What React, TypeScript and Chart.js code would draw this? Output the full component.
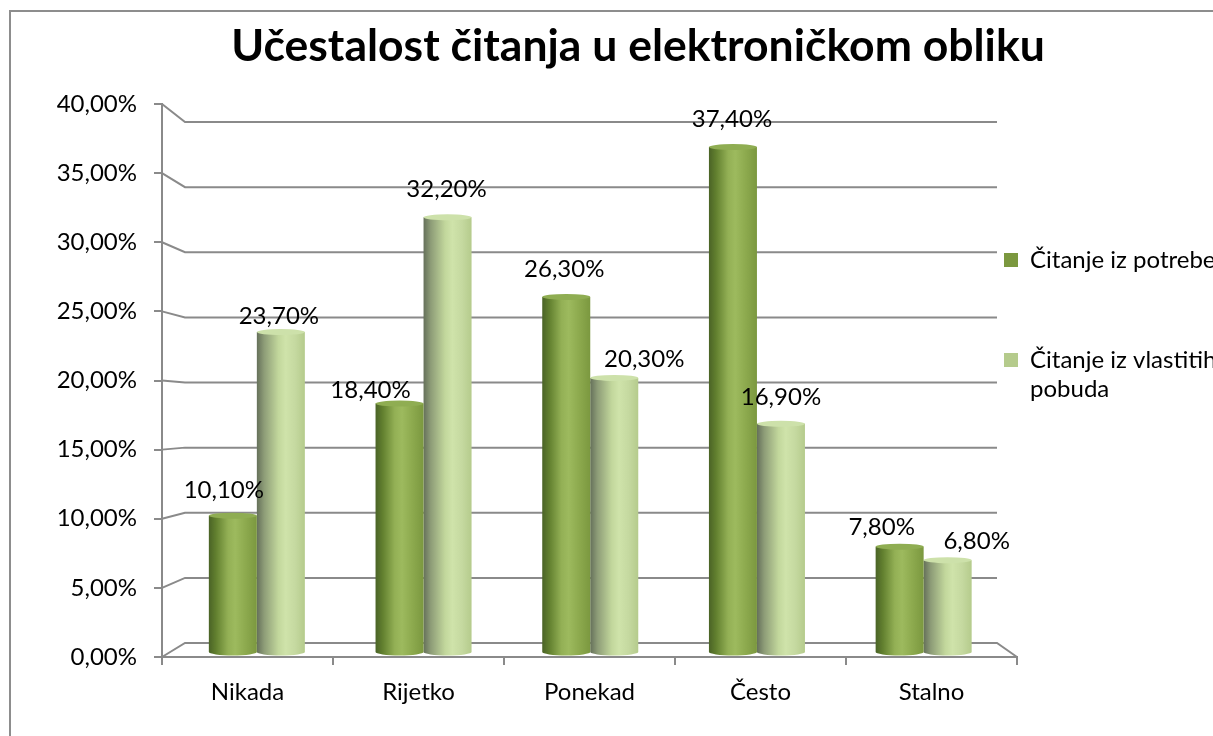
import React, { useEffect, useRef } from 'react';
import { Chart, registerables } from 'chart.js';

Chart.register(...registerables);

// ---------- data ----------
const TITLE = 'Učestalost čitanja u elektroničkom obliku';
const CATEGORIES = ['Nikada', 'Rijetko', 'Ponekad', 'Često', 'Stalno'];
const SERIES_NAMES = ['Čitanje iz potrebe', 'Čitanje iz vlastitih pobuda'];
const LEGEND_LINES = [['Čitanje iz potrebe'], ['Čitanje iz vlastitih', 'pobuda']];
const NEED_VALUES = [0.101, 0.184, 0.263, 0.374, 0.078];
const OWN_VALUES = [0.237, 0.322, 0.203, 0.169, 0.068];
const Y_MIN = 0;
const Y_MAX = 0.4;
const Y_STEP = 0.05;

// ---------- style / layout ----------
const FONT = 'Lato';
const GRID = '#8a8a8a';
const W = 1263;
const H = 740;
const PAD = { left: 31, right: 40, top: 0, bottom: 35 };
const Y_AXIS_W = 120;
const X_AXIS_H = 60;
const LEGEND_W = 217;
const TITLE_SIZE = 44.5;
const TITLE_TOP = 12;
const TITLE_H = 92;
const PLOT_W = W - PAD.left - PAD.right - LEGEND_W - Y_AXIS_W;
const PLOT_H = H - PAD.top - PAD.bottom - X_AXIS_H - TITLE_H;
// back wall inset (3D depth) and bar plane inset (mid depth)
const BACK = { left: 23, right: 20, top: 18, bottom: 14 };
const BAR_PLANE = { left: 11.5, right: 10, top: 8, bottom: 5 };
const CAT_PCT = 0.576;
const LEGEND_PAD = 76;
const LEGEND_BOX = { dx: -13, dy: 144 };
const LABEL_NUDGE = [
  [[-9, -25], [-29, -13], [-2, -28], [-1, -28], [-18, -19]],
  [[-2, -16], [-1, -28], [30, -19], [0, -27], [29, -19]],
];
const SOLID = ['#87a34c', '#bdd49a'];
const CAP = ['#8fad52', '#cde1aa'];
const STOPS = [
  [[0, '#4a6326'], [0.15, '#62802f'], [0.4, '#93b055'], [0.55, '#9dba5e'], [0.75, '#8eab4f'], [1, '#7b983f']],
  [[0, '#65705a'], [0.15, '#8d9c77'], [0.45, '#c2d79c'], [0.6, '#cfe3aa'], [0.8, '#c5d9a0'], [1, '#b5cb8c']],
];

const fmt = (v: number) => (v * 100).toFixed(2).replace('.', ',') + '%';

const nCat = CATEGORIES.length;
const xUnitPx = (PLOT_W - BAR_PLANE.left - BAR_PLANE.right) / nCat;
const XB_MIN = -0.5 - BAR_PLANE.left / xUnitPx;
const XB_MAX = nCat - 0.5 + BAR_PLANE.right / xUnitPx;
const yUnitPx = (PLOT_H - BAR_PLANE.top - BAR_PLANE.bottom) / (Y_MAX - Y_MIN);
const YB_MIN = Y_MIN - BAR_PLANE.bottom / yUnitPx;
const YB_MAX = Y_MAX + BAR_PLANE.top / yUnitPx;

function gradient(ctx: CanvasRenderingContext2D, left: number, width: number, di: number) {
  if (!isFinite(left) || !isFinite(width) || width <= 0) return SOLID[di];
  const g = ctx.createLinearGradient(left, 0, left + width, 0);
  STOPS[di].forEach(([o, c]) => g.addColorStop(o as number, c as string));
  return g;
}

const frame3d = {
  id: 'frame3d',
  afterLayout(chart: any) {
    const lg = chart.legend;
    if (!lg) return;
    const a = chart.chartArea;
    lg.left = a.right + LEGEND_BOX.dx - LEGEND_PAD;
    lg.right = chart.width;
    lg.top = a.top + LEGEND_BOX.dy - LEGEND_PAD;
    lg.bottom = chart.height;
    lg.width = lg.right - lg.left;
    lg.height = lg.bottom - lg.top;
  },
  beforeDatasetsDraw(chart: any) {
    const { ctx, chartArea: a, scales } = chart;
    const y = scales.y;
    const bl = a.left + BACK.left;
    const br = a.right - BACK.right;
    const bt = a.top + BACK.top;
    const bb = a.bottom - BACK.bottom;
    const backY = (py: number) => bb - ((a.bottom - py) / (a.bottom - a.top)) * (bb - bt);
    ctx.save();
    ctx.strokeStyle = GRID;
    ctx.lineWidth = 2;
    y.ticks.forEach((t: any) => {
      const fy = y.getPixelForValue(t.value);
      const by = backY(fy);
      ctx.beginPath();
      ctx.moveTo(a.left, fy);
      ctx.lineTo(bl, by);
      ctx.lineTo(br, by);
      if (Math.abs(t.value - Y_MIN) < 1e-9) ctx.lineTo(a.right, a.bottom);
      ctx.stroke();
    });
    ctx.restore();
  },
  afterDatasetsDraw(chart: any) {
    const { ctx } = chart;
    ctx.save();
    chart.data.datasets.forEach((ds: any, di: number) => {
      const meta = chart.getDatasetMeta(di);
      meta.data.forEach((el: any) => {
        const { x, y, base, width } = el.getProps(['x', 'y', 'base', 'width'], true);
        const left = x - width / 2;
        ctx.beginPath();
        ctx.ellipse(x, base, width / 2, 3.5, 0, 0, Math.PI);
        ctx.fillStyle = gradient(ctx, left, width, di);
        ctx.fill();
        ctx.beginPath();
        ctx.ellipse(x, y, width / 2, 3, 0, 0, Math.PI * 2);
        ctx.fillStyle = CAP[di];
        ctx.fill();
      });
    });
    ctx.font = `24px ${FONT}`;
    ctx.fillStyle = '#000';
    ctx.textAlign = 'center';
    ctx.textBaseline = 'middle';
    chart.data.datasets.forEach((ds: any, di: number) => {
      const meta = chart.getDatasetMeta(di);
      meta.data.forEach((el: any, i: number) => {
        const { x, y } = el.getProps(['x', 'y'], true);
        const [dx, dy] = LABEL_NUDGE[di][i];
        ctx.fillText(fmt(meta.controller.getParsed(i).y), x + dx, y + dy);
      });
    });
    ctx.restore();
  },
};

function barFill(di: number) {
  return (c: any) => {
    if (c.type !== 'data') return SOLID[di];
    const chart = c.chart;
    const xb = chart.scales && chart.scales.xb;
    if (!xb) return SOLID[di];
    const center = xb.getPixelForValue(c.dataIndex);
    const unit = xb.getPixelForValue(1) - xb.getPixelForValue(0);
    const w = (unit * CAT_PCT) / 2;
    const left = di === 0 ? center - w : center;
    return gradient(chart.ctx, left, w, di);
  };
}

export default function App() {
  const ref = useRef<HTMLCanvasElement>(null);
  useEffect(() => {
    if (!ref.current) return;
    Chart.defaults.font.family = FONT;
    const seriesValues = [NEED_VALUES, OWN_VALUES];
    const chart = new Chart(ref.current, {
      type: 'bar',
      data: {
        labels: CATEGORIES,
        datasets: seriesValues.map((vals, di) => ({
          label: SERIES_NAMES[di],
          data: vals.map((v, i) => ({ x: i, y: v })),
          xAxisID: 'xb',
          yAxisID: 'yb',
          backgroundColor: barFill(di),
          borderWidth: 0,
          categoryPercentage: CAT_PCT,
          barPercentage: 1,
        })),
      },
      options: {
        responsive: false,
        animation: false,
        events: [],
        layout: { padding: PAD },
        scales: {
          x: {
            type: 'category',
            position: 'bottom',
            offset: true,
            grid: { display: true, offset: true, drawOnChartArea: false, drawTicks: true, tickLength: 8, color: GRID, lineWidth: 2 },
            border: { display: true, color: GRID, width: 2 },
            ticks: { color: '#000', font: { family: FONT, size: 24 }, padding: 13, maxRotation: 0, autoSkip: false },
            afterFit: (s: any) => { s.height = X_AXIS_H; },
          },
          y: {
            type: 'linear',
            position: 'left',
            min: Y_MIN,
            max: Y_MAX,
            grid: { display: true, drawOnChartArea: false, drawTicks: true, tickLength: 8, color: GRID, lineWidth: 2 },
            border: { display: true, color: GRID, width: 2 },
            ticks: { stepSize: Y_STEP, color: '#000', font: { family: FONT, size: 24 }, padding: 17, callback: (v: any) => fmt(Number(v)) },
            afterFit: (s: any) => { s.width = Y_AXIS_W; },
          },
          xb: {
            type: 'linear',
            position: 'bottom',
            display: false,
            offset: false,
            min: XB_MIN,
            max: XB_MAX,
            grid: { offset: false },
            afterBuildTicks: (s: any) => { s.ticks = CATEGORIES.map((_, i) => ({ value: i })); },
          },
          yb: {
            type: 'linear',
            position: 'left',
            display: false,
            min: YB_MIN,
            max: YB_MAX,
          },
        },
        plugins: {
          tooltip: { enabled: false },
          title: {
            display: true,
            text: TITLE,
            color: '#000',
            font: { family: FONT, size: TITLE_SIZE, weight: 'bold', lineHeight: 1 },
            padding: { top: TITLE_TOP, bottom: TITLE_H - TITLE_TOP - TITLE_SIZE },
          },
          legend: {
            display: true,
            position: 'right',
            align: 'start',
            maxWidth: LEGEND_W,
            labels: {
              color: '#000',
              font: { family: FONT, size: 24, lineHeight: 1.2 },
              boxWidth: 14,
              boxHeight: 14,
              padding: LEGEND_PAD,
              generateLabels: (ch: any) =>
                Chart.defaults.plugins.legend.labels.generateLabels(ch).map((l: any) => {
                  const lines = LEGEND_LINES[l.datasetIndex];
                  return { ...l, text: lines.length === 1 ? lines[0] : lines, lineWidth: 0 };
                }),
            },
          },
        },
      },
      plugins: [frame3d],
    } as any);
    return () => chart.destroy();
  }, []);

  return (
    <div style={{ position: 'fixed', left: 0, top: 0, width: '100vw', height: '100vh', overflow: 'hidden', background: '#fff' }}>
      <div style={{ position: 'absolute', left: 9, top: 10, width: W + 60, height: H + 40, border: '2px solid #8d8d8d', background: '#fff' }}>
        <canvas ref={ref} width={W} height={H} style={{ position: 'absolute', left: 0, top: 0, width: W, height: H }} />
      </div>
    </div>
  );
}
